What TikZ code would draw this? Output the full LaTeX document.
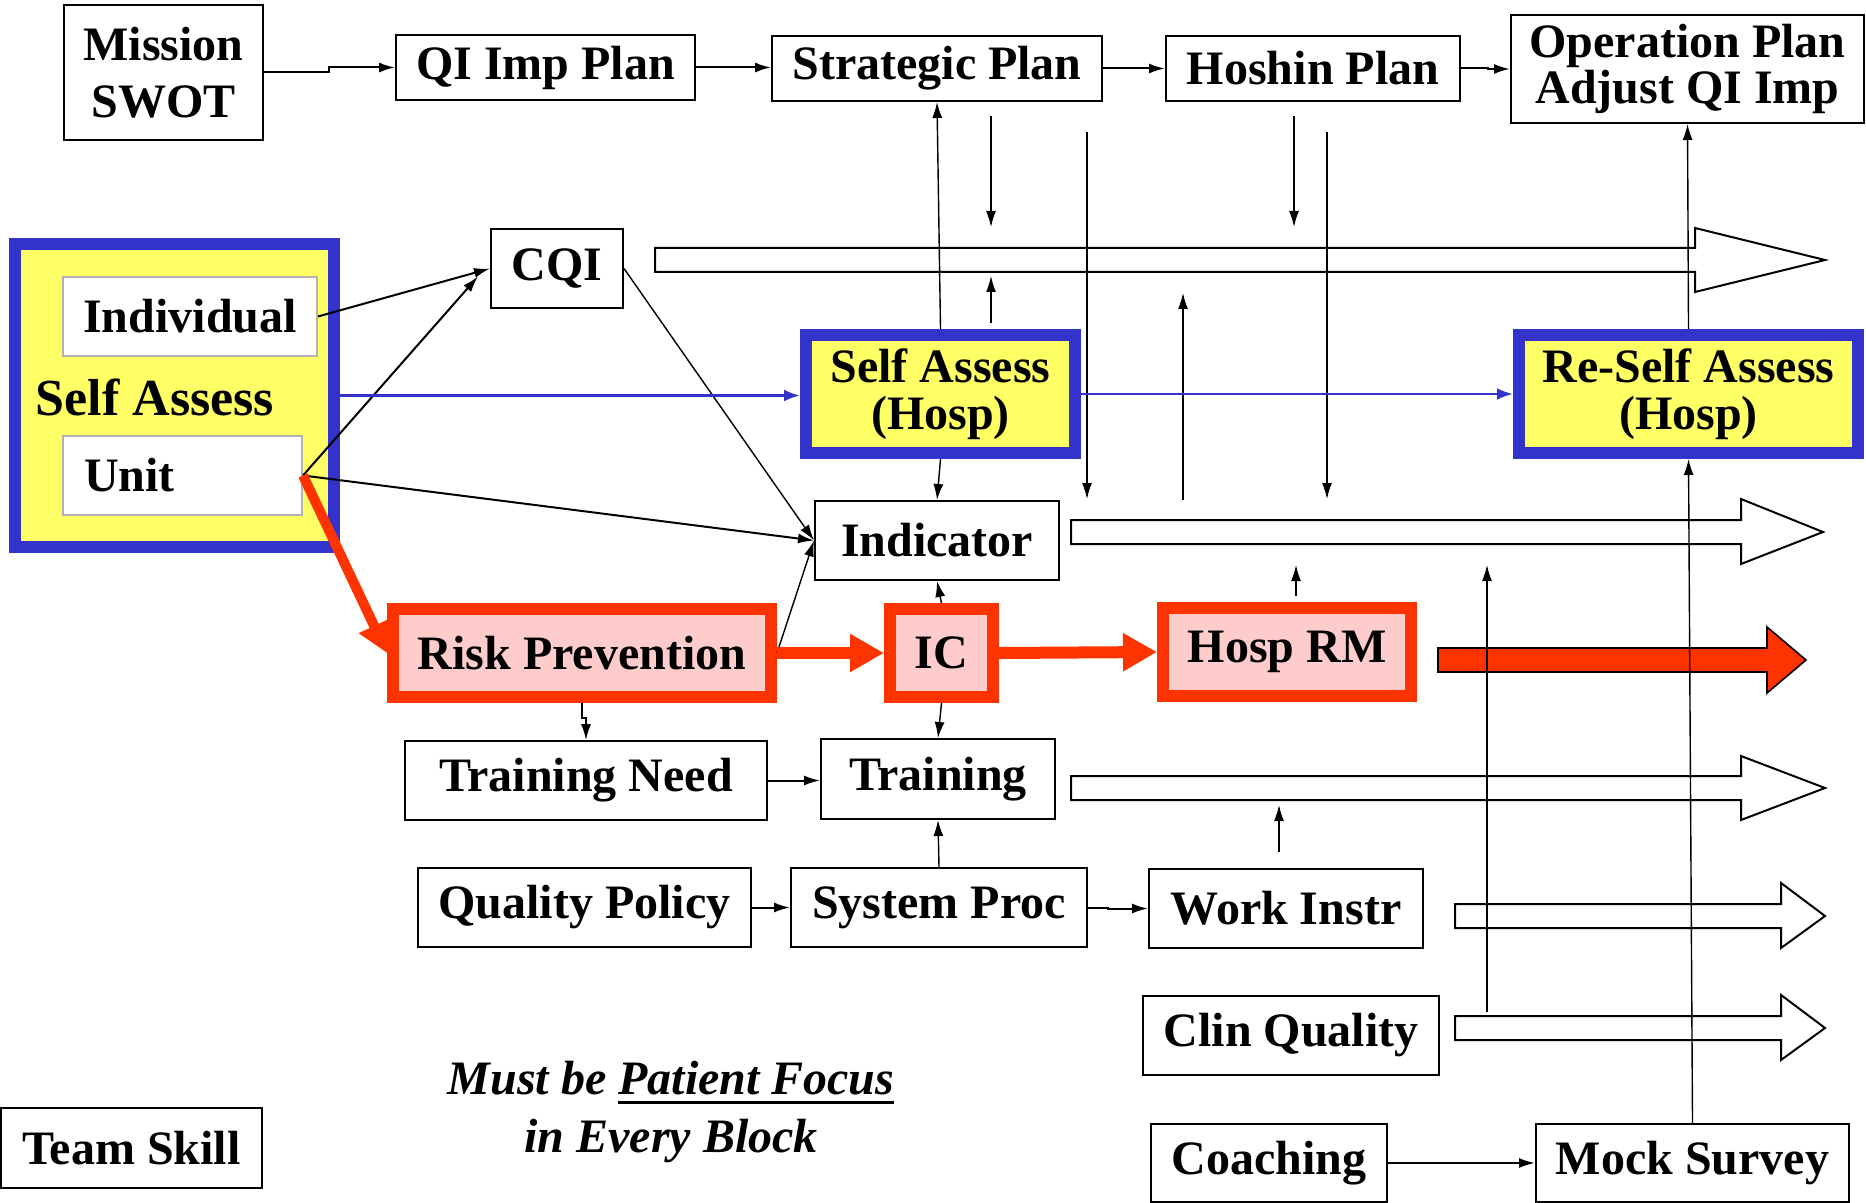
\documentclass[tikz,border=0pt]{standalone}
\usepackage{fontspec}
\setmainfont{Liberation Serif}
\usetikzlibrary{arrows.meta,calc}
\definecolor{sablue}{HTML}{3333CC}
\definecolor{sayellow}{HTML}{FFFF66}
\definecolor{rpred}{HTML}{FF3300}
\definecolor{rppink}{HTML}{FFCCCC}
\newcommand\pfunderline[1]{\setbox0\hbox{#1}\rlap{\rule[-5pt]{\wd0}{1.6pt}}\box0}
% \bx{name}{x1}{y1}{x2}{y2}{style}{text}   (coordinates in reference pixels)
\newcommand\bx[7]{\node[#6, minimum width={(#4-#2)*0.5pt}, minimum height={(#5-#3)*0.5pt}] (#1) at ({(#2+#4)/2},{(#3+#5)/2}) {#7};}
\begin{document}
\begin{tikzpicture}[x=0.5pt,y=-0.5pt,
 font=\fontsize{24}{27}\selectfont\bfseries,
 box/.style={draw=black, line width=1pt, fill=white, inner sep=0pt, align=center},
 graybox/.style={draw=black!30, line width=1pt, fill=white, inner sep=0pt},
 bluebox/.style={draw=sablue, line width=6pt, fill=sayellow, inner sep=0pt, align=center},
 redbox/.style={draw=rpred, line width=6pt, fill=rppink, inner sep=0pt, align=center},
 arr/.style={-{Latex[length=8pt,width=5pt]}, line width=0.7pt},
 bluearr/.style={sablue, line width=1.3pt, -{Latex[length=8pt,width=6pt]}},
 redarr/.style={rpred, line width=6pt, -{Triangle[length=17pt,width=18pt]}},
 hollow/.style={draw=black, line width=1pt, fill=white},
 redblock/.style={draw=black, line width=0.8pt, fill=rpred},
]
\useasboundingbox (0,0) rectangle (1866,1203);

% ---------- top row ----------
\bx{mission}{64}{5}{263}{140}{box, font=\fontsize{24}{28.5}\selectfont\bfseries}{Mission\\SWOT}
\bx{qi}{396}{35}{695}{100}{box}{QI Imp Plan}
\bx{strat}{772}{36}{1102}{101}{box}{Strategic Plan}
\bx{hoshin}{1166}{36}{1460}{101}{box}{Hoshin Plan}
\bx{oper}{1511}{15}{1864}{123}{box, font=\fontsize{24}{23}\selectfont\bfseries}{Operation Plan\\Adjust QI Imp}

% ---------- hollow arrows (drawn first, lines cross them) ----------
\draw[hollow] (655,248) -- (1695,248) -- (1695,228) -- (1825,260) -- (1695,292) -- (1695,272) -- (655,272) -- cycle;
\draw[hollow] (1071,520) -- (1741,520) -- (1741,499) -- (1823,532) -- (1741,564) -- (1741,544) -- (1071,544) -- cycle;
\draw[hollow] (1071,776) -- (1741,776) -- (1741,756) -- (1825,788) -- (1741,820) -- (1741,800) -- (1071,800) -- cycle;
\draw[hollow] (1455,904) -- (1781,904) -- (1781,883) -- (1825,916) -- (1781,948) -- (1781,928) -- (1455,928) -- cycle;
\draw[hollow] (1455,1016) -- (1781,1016) -- (1781,995) -- (1825,1028) -- (1781,1060) -- (1781,1040) -- (1455,1040) -- cycle;
\draw[redblock] (1438,648) -- (1767,648) -- (1767,627) -- (1806,660) -- (1767,693) -- (1767,672) -- (1438,672) -- cycle;

% ---------- self assess block ----------
\bx{selfassess}{15}{244}{334}{547}{draw=sablue, line width=6pt, fill=sayellow, inner sep=0pt}{}
\bx{individual}{63}{277}{317}{356}{graybox}{Individual}
\bx{unit}{63}{436}{302}{515}{graybox}{\makebox[119.5pt][l]{\hspace{10.5pt}Unit}}
\node[font=\fontsize{26}{30}\selectfont\bfseries] (salabel) at (155,397) {Self Assess};

\bx{cqi}{491}{229}{623}{308}{box}{CQI}
\bx{sah}{806}{335}{1075}{453}{bluebox, font=\fontsize{24}{23.5}\selectfont\bfseries}{Self Assess\\(Hosp)}
\bx{resah}{1519}{335}{1858}{453}{bluebox, font=\fontsize{24}{23.5}\selectfont\bfseries}{Re-Self Assess\\(Hosp)}
\bx{indicator}{815}{501}{1059}{580}{box}{Indicator}

\bx{risk}{393}{609}{771}{697}{redbox}{Risk Prevention}
\bx{ic}{890}{609}{993}{697}{redbox}{IC}
\bx{hosprm}{1163}{608}{1411}{696}{redbox}{Hosp RM}

\bx{trainneed}{405}{741}{767}{820}{box}{Training Need}
\bx{training}{821}{739}{1055}{819}{box}{Training}
\bx{qpolicy}{418}{868}{751}{947}{box}{Quality Policy}
\bx{sysproc}{791}{868}{1087}{947}{box}{System Proc}
\bx{workinstr}{1149}{869}{1423}{948}{box}{Work Instr}
\bx{clin}{1143}{996}{1439}{1075}{box}{Clin Quality}
\bx{coaching}{1151}{1124}{1387}{1202}{box}{Coaching}
\bx{mock}{1536}{1124}{1849}{1202}{box}{Mock Survey}
\bx{teamskill}{1}{1108}{262}{1188}{box}{Team Skill}

\node[align=center, font=\fontsize{24}{29}\selectfont\bfseries\itshape] (motto) at (671,1112)
  {Must be \pfunderline{Patient Focus}\\in Every Block};

% ---------- free-ended vertical arrows ----------
\coordinate (d1s) at (991,116);  \coordinate (d1e) at (991,227);
\coordinate (u1s) at (991,323);  \coordinate (u1e) at (991,276);
\coordinate (l1s) at (1087,132); \coordinate (l1e) at (1087,499);
\coordinate (u2s) at (1183,500); \coordinate (u2e) at (1183,293);
\coordinate (d2s) at (1294,116); \coordinate (d2e) at (1294,227);
\coordinate (l2s) at (1327,132); \coordinate (l2e) at (1327,499);
\coordinate (u3s) at (1296,596); \coordinate (u3e) at (1296,565);
\coordinate (l3s) at (1487,1012); \coordinate (l3e) at (1487,565);
\coordinate (u4s) at (1279,852); \coordinate (u4e) at (1279,805);
\foreach \a/\b in {d1s/d1e,u1s/u1e,l1s/l1e,u2s/u2e,d2s/d2e,l2s/l2e,u3s/u3e,l3s/l3e,u4s/u4e}
  \draw[arr] (\a) -- (\b);

% ---------- connectors ----------
\draw[arr, line width=1pt] (mission.east) -- ++(65,0) |- (qi.west);
\draw[arr, line width=1pt] (qi.east) -- (qi.east -| strat.west);
\draw[arr, line width=1pt] (strat.east) -- (strat.east -| hoshin.west);
\draw[arr, line width=1pt] (hoshin.east) -- ++(27,0) |- (oper.west);

\draw[arr] (sah.north) -- (strat.south);
\draw[arr] (resah.north) -- (oper.south);
\draw[arr] (mock.north) -- (resah.south);
\draw[arr] (sah.south) -- (indicator.north);
\draw[arr] (ic.north) -- (indicator.south);
\draw[arr] (ic.south) -- (training.north);
\draw[arr] (risk.south) -- ++(0,15) -| (trainneed.north);
\draw[arr, line width=1pt] (trainneed.east) -- (trainneed.east -| training.west);
\draw[arr] (sysproc.north) -- (training.south);
\draw[arr, line width=1pt] (qpolicy.east) -- (qpolicy.east -| sysproc.west);
\draw[arr, line width=1pt] (sysproc.east) -- ++(20,0) |- (workinstr.west);
\draw[arr, line width=1pt] (coaching.east) -- (mock.west);

\draw[arr, line width=1pt] (individual.east) -- (cqi.west);
\draw[arr, line width=1pt] (unit.east) -- ($(cqi.west)+(-12,8)$);
\draw[arr, line width=1pt] (unit.east) -- (indicator.west);
\draw[arr] (cqi.east) -- (indicator.west);
\draw[arr] (risk.east) -- (indicator.west);

\draw[bluearr] (selfassess.east) -- (selfassess.east -| sah.west);
\draw[bluearr] (sah.east) -- (resah.west);

\draw[rpred, line width=5pt, -{Triangle[length=15pt,width=16pt]}] (unit.east) -- (risk.west);
\draw[redarr] (risk.east) -- (ic.west);
\draw[redarr] (ic.east) -- (hosprm.west);
\end{tikzpicture}
\end{document}
